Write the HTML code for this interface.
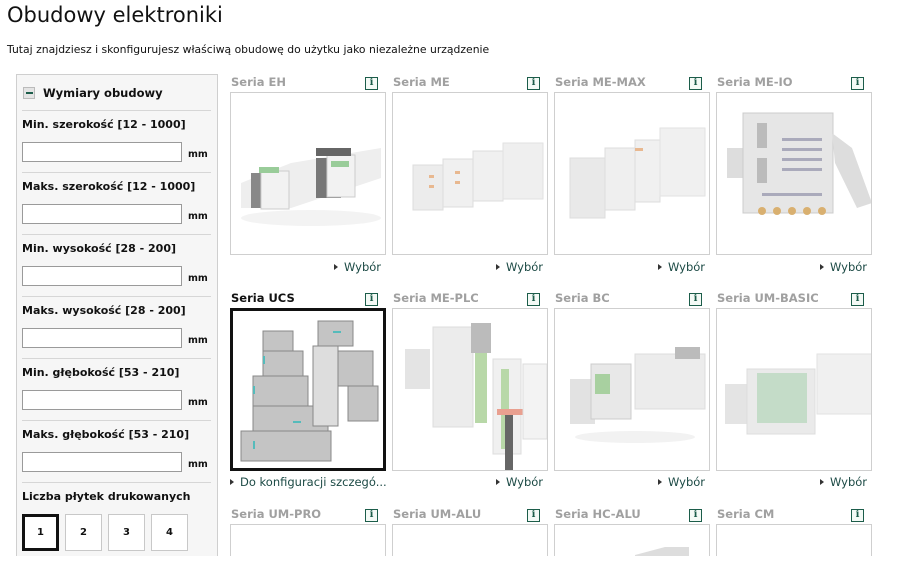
<!DOCTYPE html>
<html><head><meta charset="utf-8"><style>
*{margin:0;padding:0;box-sizing:border-box}
html,body{width:900px;height:564px;overflow:hidden}
body{background:#fff;font-family:"DejaVu Sans","Liberation Sans",sans-serif;position:relative;color:#111}
.a{position:absolute}
h1{position:absolute;left:7px;top:3px;font-weight:normal;font-size:21px;font-family:"DejaVu Sans",sans-serif;color:#111}
.sub{left:7px;top:43px;font-size:10.8px}
.panel{left:16px;top:74px;width:202px;height:482px;background:#f6f6f6;border:1px solid #cfcfcf;border-bottom:none}
.lab{position:absolute;left:22px;font-size:11px;font-weight:bold}
.inp{position:absolute;left:22px;width:160px;height:20px;background:#fff;border:1px solid #9a9a9a}
.mm{position:absolute;left:188px;font-size:9.5px;font-weight:bold}
.sep{position:absolute;left:22px;width:189px;height:1px;background:#d6d6d6}
.btn{position:absolute;top:514px;width:37px;height:37px;background:#fff;border:1px solid #c8c8c8;font-size:10px;font-weight:bold;text-align:center;line-height:35px}
.t{position:absolute;font-size:11.5px;font-weight:bold;color:#a0a0a0}
.i{position:absolute;width:13px;height:13px;border:1.5px solid #1c5d4a;color:#1c5d4a;font-size:10px;font-weight:bold;text-align:center;line-height:10px;font-family:"DejaVu Serif",serif;background:#f4faf6}
.box{position:absolute;width:156px;height:163px;border:1px solid #cfcfcf;background:#fff;overflow:hidden}
.w{position:absolute;font-size:11.5px;color:#1c4a45}
.w:before{content:"";display:inline-block;border-left:4px solid #333;border-top:3px solid transparent;border-bottom:3px solid transparent;margin-right:6px;vertical-align:1px}
</style></head><body>
<h1>Obudowy elektroniki</h1>
<div class="a sub">Tutaj znajdziesz i skonfigurujesz właściwą obudowę do użytku jako niezależne urządzenie</div>

<div class="a panel"></div>
<div class="a" style="left:23px;top:87px;width:12px;height:12px;background:#e4e4e4;border:1px solid #bbb"><div style="position:absolute;left:2px;top:4px;width:7px;height:2px;background:#1c5d4a"></div></div>
<div class="a" style="left:43px;top:86px;font-size:11.5px;font-weight:bold">Wymiary obudowy</div>
<div class="sep" style="top:110px"></div>

<div class="lab" style="top:118px">Min. szerokość [12 - 1000]</div><div class="inp" style="top:142px"></div><div class="mm" style="top:149px">mm</div><div class="sep" style="top:172px"></div>
<div class="lab" style="top:180px">Maks. szerokość [12 - 1000]</div><div class="inp" style="top:204px"></div><div class="mm" style="top:211px">mm</div><div class="sep" style="top:234px"></div>
<div class="lab" style="top:242px">Min. wysokość [28 - 200]</div><div class="inp" style="top:266px"></div><div class="mm" style="top:273px">mm</div><div class="sep" style="top:296px"></div>
<div class="lab" style="top:304px">Maks. wysokość [28 - 200]</div><div class="inp" style="top:328px"></div><div class="mm" style="top:335px">mm</div><div class="sep" style="top:358px"></div>
<div class="lab" style="top:366px">Min. głębokość [53 - 210]</div><div class="inp" style="top:390px"></div><div class="mm" style="top:397px">mm</div><div class="sep" style="top:420px"></div>
<div class="lab" style="top:428px">Maks. głębokość [53 - 210]</div><div class="inp" style="top:452px"></div><div class="mm" style="top:459px">mm</div><div class="sep" style="top:482px"></div>
<div class="lab" style="top:490px">Liczba płytek drukowanych</div>
<div class="btn" style="left:22px;border:3px solid #111;line-height:31px">1</div>
<div class="btn" style="left:65px">2</div>
<div class="btn" style="left:108px">3</div>
<div class="btn" style="left:151px">4</div>

<!-- row 1 -->
<div class="t" style="left:231px;top:75px">Seria EH</div><div class="i" style="left:365px;top:77px">i</div>
<div class="t" style="left:393px;top:75px">Seria ME</div><div class="i" style="left:527px;top:77px">i</div>
<div class="t" style="left:555px;top:75px">Seria ME-MAX</div><div class="i" style="left:689px;top:77px">i</div>
<div class="t" style="left:717px;top:75px">Seria ME-IO</div><div class="i" style="left:851px;top:77px">i</div>

<div class="box" style="left:230px;top:92px"><svg width="156" height="163">
<polygon points="10,90 60,70 150,55 150,85 60,115 10,115" fill="#eee"/>
<rect x="20" y="80" width="28" height="35" fill="#888"/><rect x="30" y="78" width="28" height="38" fill="#f2f2f2" stroke="#ccc"/><rect x="28" y="74" width="20" height="6" fill="#9c9"/>
<rect x="85" y="65" width="25" height="40" fill="#777"/><rect x="96" y="62" width="28" height="42" fill="#f2f2f2" stroke="#ccc"/><rect x="85" y="55" width="35" height="8" fill="#666"/><rect x="100" y="68" width="18" height="6" fill="#9c9"/>
<ellipse cx="80" cy="125" rx="70" ry="8" fill="#f3f3f3"/></svg></div>
<div class="box" style="left:392px;top:92px"><svg width="156" height="163">
<rect x="20" y="72" width="30" height="45" fill="#ececec" stroke="#ddd"/><rect x="50" y="66" width="30" height="48" fill="#f0f0f0" stroke="#ddd"/><rect x="80" y="58" width="30" height="50" fill="#f0f0f0" stroke="#ddd"/><rect x="110" y="50" width="40" height="56" fill="#efefef" stroke="#e2e2e2"/>
<rect x="36" y="82" width="5" height="3" fill="#e8b890"/><rect x="36" y="92" width="5" height="3" fill="#e8b890"/><rect x="62" y="78" width="5" height="3" fill="#e8b890"/><rect x="62" y="88" width="5" height="3" fill="#e8b890"/></svg></div>
<div class="box" style="left:554px;top:92px"><svg width="156" height="163">
<rect x="15" y="65" width="35" height="60" fill="#e9e9e9" stroke="#ddd"/><rect x="50" y="55" width="30" height="62" fill="#efefef" stroke="#ddd"/><rect x="80" y="47" width="25" height="62" fill="#f0f0f0" stroke="#ddd"/><rect x="105" y="35" width="45" height="68" fill="#f0f0f0" stroke="#e2e2e2"/><rect x="80" y="55" width="8" height="3" fill="#e8b890"/></svg></div>
<div class="box" style="left:716px;top:92px"><svg width="156" height="163">
<rect x="10" y="55" width="20" height="30" fill="#ddd"/><rect x="26" y="20" width="90" height="100" fill="#e6e6e6" stroke="#ccc"/><rect x="40" y="30" width="10" height="25" fill="#bbb"/><rect x="40" y="65" width="10" height="25" fill="#bbb"/>
<g fill="#aab"><rect x="65" y="45" width="40" height="3"/><rect x="65" y="55" width="40" height="3"/><rect x="65" y="65" width="40" height="3"/><rect x="65" y="75" width="40" height="3"/><rect x="45" y="100" width="60" height="3"/></g>
<g fill="#d9b070"><circle cx="45" cy="118" r="4"/><circle cx="60" cy="118" r="4"/><circle cx="75" cy="118" r="4"/><circle cx="90" cy="118" r="4"/><circle cx="105" cy="118" r="4"/></g>
<polygon points="115,40 135,55 155,110 140,115 118,70" fill="#ddd"/></svg></div>
<div class="w" style="left:334px;top:260px">Wybór</div>
<div class="w" style="left:496px;top:260px">Wybór</div>
<div class="w" style="left:658px;top:260px">Wybór</div>
<div class="w" style="left:820px;top:260px">Wybór</div>

<!-- row 2 -->
<div class="t" style="left:231px;top:291px;color:#111">Seria UCS</div><div class="i" style="left:365px;top:293px">i</div>
<div class="t" style="left:393px;top:291px">Seria ME-PLC</div><div class="i" style="left:527px;top:293px">i</div>
<div class="t" style="left:555px;top:291px">Seria BC</div><div class="i" style="left:689px;top:293px">i</div>
<div class="t" style="left:717px;top:291px">Seria UM-BASIC</div><div class="i" style="left:851px;top:293px">i</div>

<div class="box" style="left:230px;top:308px;border:3px solid #111"><svg width="150" height="157">
<g fill="#c4c4c4" stroke="#888"><rect x="30" y="20" width="30" height="20"/><rect x="30" y="40" width="40" height="25"/><rect x="20" y="65" width="55" height="30"/><rect x="20" y="95" width="75" height="30"/><rect x="8" y="120" width="90" height="30"/><rect x="85" y="10" width="35" height="25"/><rect x="80" y="35" width="25" height="80" fill="#ddd"/><rect x="105" y="40" width="35" height="35"/><rect x="115" y="75" width="30" height="35"/></g>
<g fill="#5bb"><rect x="30" y="45" width="2" height="8"/><rect x="20" y="75" width="2" height="8"/><rect x="60" y="110" width="8" height="2"/><rect x="20" y="130" width="2" height="8"/><rect x="100" y="20" width="8" height="2"/></g></svg></div>
<div class="box" style="left:392px;top:308px"><svg width="156" height="163">
<rect x="12" y="40" width="25" height="40" fill="#e4e4e4"/><rect x="40" y="18" width="40" height="100" fill="#ececec" stroke="#ddd"/><rect x="78" y="14" width="20" height="30" fill="#bbb"/><rect x="82" y="44" width="12" height="70" fill="#b8d8a8"/><rect x="100" y="50" width="28" height="95" fill="#f0f0f0" stroke="#ddd"/><rect x="108" y="60" width="8" height="80" fill="#b8d8a8"/><rect x="104" y="100" width="26" height="6" fill="#e9a090"/><rect x="112" y="106" width="8" height="57" fill="#666"/><rect x="130" y="55" width="24" height="75" fill="#f3f3f3" stroke="#ddd"/></svg></div>
<div class="box" style="left:554px;top:308px"><svg width="156" height="163">
<rect x="15" y="70" width="25" height="45" fill="#e2e2e2"/><rect x="36" y="55" width="40" height="55" fill="#e8e8e8" stroke="#ccc"/><rect x="40" y="65" width="15" height="20" fill="#a8d0a0"/><rect x="80" y="45" width="70" height="55" fill="#ececec" stroke="#ddd"/><rect x="120" y="38" width="25" height="12" fill="#bbb"/><ellipse cx="80" cy="128" rx="60" ry="6" fill="#f2f2f2"/></svg></div>
<div class="box" style="left:716px;top:308px"><svg width="156" height="163">
<rect x="8" y="75" width="25" height="40" fill="#e4e4e4"/><rect x="30" y="60" width="68" height="65" fill="#eaeaea" stroke="#ddd"/><rect x="40" y="64" width="50" height="50" fill="#c4dcc8"/><rect x="100" y="45" width="56" height="60" fill="#f0f0f0" stroke="#e2e2e2"/></svg></div>
<div class="w" style="left:230px;top:475px">Do konfiguracji szczegó...</div>
<div class="w" style="left:496px;top:475px">Wybór</div>
<div class="w" style="left:658px;top:475px">Wybór</div>
<div class="w" style="left:820px;top:475px">Wybór</div>

<!-- row 3 -->
<div class="t" style="left:231px;top:507px">Seria UM-PRO</div><div class="i" style="left:365px;top:509px">i</div>
<div class="t" style="left:393px;top:507px">Seria UM-ALU</div><div class="i" style="left:527px;top:509px">i</div>
<div class="t" style="left:555px;top:507px">Seria HC-ALU</div><div class="i" style="left:689px;top:509px">i</div>
<div class="t" style="left:717px;top:507px">Seria CM</div><div class="i" style="left:851px;top:509px">i</div>
<div class="box" style="left:230px;top:524px;height:32px;border-bottom:none"></div>
<div class="box" style="left:392px;top:524px;height:32px;border-bottom:none"></div>
<div class="box" style="left:554px;top:524px;height:32px;border-bottom:none"><svg width="156" height="32"><polygon points="80,30 110,22 134,22 134,32 80,32" fill="#ddd"/></svg></div>
<div class="box" style="left:716px;top:524px;height:32px;border-bottom:none"></div>
</body></html>
